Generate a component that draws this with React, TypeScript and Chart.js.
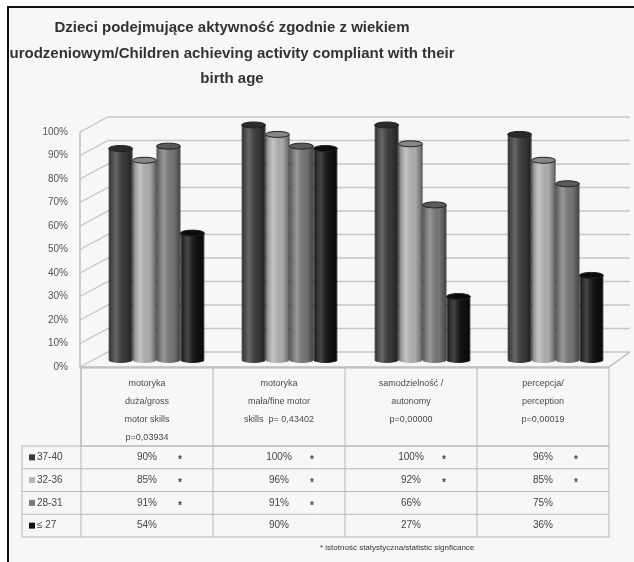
import { useEffect, useRef } from "react";
import { Chart, registerables } from "chart.js";

Chart.register(...registerables);

// Category headers of the data table (one entry per column, one string per line)
const categoryLines: string[][] = [
  ["motoryka", "duża/gross", "motor skills", "p=0,03934"],
  ["motoryka", "mała/fine motor", "skills  p= 0,43402"],
  ["samodzielność /", "autonomy", "p=0,00000"],
  ["percepcja/", "perception", "p=0,00019"],
];
const categories = ["motoryka duża", "motoryka mała", "samodzielność", "percepcja"];

// Birth-age groups (weeks)
const seriesLabels = ["37-40", "32-36", "28-31", "≤ 27"];

// Percent of children achieving the activity, per group
const values3740 = [90, 100, 100, 96];
const values3236 = [85, 96, 92, 85];
const values2831 = [91, 91, 66, 75];
const valuesUpTo27 = [54, 90, 27, 36];

// Statistically significant cells (marked with *)
const signif3740 = [true, true, true, true];
const signif3236 = [true, true, true, true];
const signif2831 = [true, true, false, false];
const signifUpTo27 = [false, false, false, false];

const yTicks = [0, 10, 20, 30, 40, 50, 60, 70, 80, 90, 100];

const titleLines = [
  "Dzieci podejmujące aktywność zgodnie z wiekiem",
  "urodzeniowym/Children achieving activity compliant with their",
  "birth age",
];
const footnote = "* istotność statystyczna/statistic signficance";

const seriesColors = ["#3b3b3b", "#b4b4b4", "#7a7a7a", "#111111"];
const seriesValues = [values3740, values3236, values2831, valuesUpTo27];
const seriesSignif = [signif3740, signif3236, signif2831, signifUpTo27];

const SANS = "'Liberation Sans', Arial, sans-serif";

// Frame, background and title
const framePlugin = {
  id: "frameAndTitle",
  beforeDraw(chart: any) {
    const { ctx, width, height } = chart;
    ctx.save();
    ctx.fillStyle = "#ffffff";
    ctx.fillRect(0, 0, width, height);
    ctx.fillStyle = "#f7f7f7";
    ctx.fillRect(8, 8, width - 8, height - 8);
    ctx.fillStyle = "#111111";
    ctx.fillRect(7, 6, width - 7, 2);
    ctx.fillRect(7, 6, 2, height - 6);

    ctx.fillStyle = "#333333";
    ctx.font = `bold 15px ${SANS}`;
    ctx.textAlign = "center";
    ctx.textBaseline = "middle";
    titleLines.forEach((line, i) => ctx.fillText(line, 232, 28 + 25.5 * i));
    ctx.restore();
  },
};

// Pseudo-3D walls with gridlines behind the columns
const wallsPlugin = {
  id: "walls3d",
  beforeDatasetsDraw(chart: any) {
    const { ctx, chartArea: area } = chart;
    const ys = chart.scales.y;
    const frontX = area.left - 10;
    const backX = area.left + 18;
    const backRight = area.right + 8;
    const tableRight = area.right - 13;
    ctx.save();
    ctx.strokeStyle = "#c6c6c6";
    ctx.lineWidth = 1.4;
    for (const v of yTicks) {
      const py = ys.getPixelForValue(v);
      ctx.beginPath();
      ctx.moveTo(frontX, py + 7);
      ctx.lineTo(backX, py - 8);
      ctx.lineTo(backRight, py - 8);
      ctx.stroke();
    }
    const top = ys.getPixelForValue(100);
    const zero = ys.getPixelForValue(0);
    ctx.strokeStyle = "#bdbdbd";
    ctx.beginPath();
    ctx.moveTo(frontX, top + 7);
    ctx.lineTo(frontX, zero + 7);
    ctx.lineTo(tableRight, zero + 7);
    ctx.lineTo(backRight, zero - 8);
    ctx.stroke();
    ctx.restore();
  },
};

// Cylinder shading on top of each column
const cylinderPlugin = {
  id: "cylinders",
  afterDatasetsDraw(chart: any) {
    const { ctx } = chart;
    ctx.save();
    chart.data.datasets.forEach((ds: any, di: number) => {
      const meta = chart.getDatasetMeta(di);
      meta.data.forEach((el: any) => {
        const { x, y, base, width } = el.getProps(["x", "y", "base", "width"], true);
        const left = x - width / 2;
        const g = ctx.createLinearGradient(left, 0, left + width, 0);
        g.addColorStop(0, "rgba(0,0,0,0.35)");
        g.addColorStop(0.32, "rgba(255,255,255,0.22)");
        g.addColorStop(0.7, "rgba(0,0,0,0.05)");
        g.addColorStop(1, "rgba(0,0,0,0.45)");
        // rounded bottom
        ctx.fillStyle = seriesColors[di];
        ctx.beginPath();
        ctx.ellipse(x, base, width / 2, 3, 0, 0, Math.PI);
        ctx.fill();
        ctx.fillStyle = g;
        ctx.beginPath();
        ctx.ellipse(x, base, width / 2, 3, 0, 0, Math.PI);
        ctx.fill();
        ctx.fillRect(left, y, width, base - y);
        // top cap
        ctx.beginPath();
        ctx.ellipse(x, y, width / 2, 3, 0, 0, Math.PI * 2);
        ctx.fillStyle = seriesColors[di];
        ctx.fill();
        ctx.fillStyle = "rgba(0,0,0,0.25)";
        ctx.fill();
        ctx.strokeStyle = "#222222";
        ctx.lineWidth = 1;
        ctx.stroke();
      });
    });
    ctx.restore();
  },
};

// Data table under the plot
const tablePlugin = {
  id: "dataTable",
  afterDraw(chart: any) {
    const { ctx, chartArea: area } = chart;
    const ys = chart.scales.y;
    const tLeft = area.left - 9;
    const tRight = area.right - 13;
    const legendLeft = 22;
    const colW = (tRight - tLeft) / categories.length;
    const headTop = ys.getPixelForValue(0) + 8;
    const headBottom = headTop + 78;
    const rowH = 22.75;
    const rowsBottom = headBottom + rowH * seriesLabels.length;

    ctx.save();
    ctx.strokeStyle = "#b8b8b8";
    ctx.lineWidth = 1;
    // header block
    ctx.strokeRect(tLeft, headTop, tRight - tLeft, headBottom - headTop);
    // rows block
    ctx.strokeRect(legendLeft, headBottom, tRight - legendLeft, rowsBottom - headBottom);
    for (let r = 1; r < seriesLabels.length; r++) {
      const yy = headBottom + rowH * r;
      ctx.beginPath();
      ctx.moveTo(legendLeft, yy);
      ctx.lineTo(tRight, yy);
      ctx.stroke();
    }
    for (let c = 0; c < categories.length; c++) {
      const xx = tLeft + colW * c;
      ctx.beginPath();
      ctx.moveTo(xx, headTop);
      ctx.lineTo(xx, rowsBottom);
      ctx.stroke();
    }

    // header labels
    ctx.fillStyle = "#4a4a4a";
    ctx.textAlign = "center";
    ctx.textBaseline = "middle";
    ctx.font = `9px ${SANS}`;
    categoryLines.forEach((lines, c) => {
      const cx = tLeft + colW * (c + 0.5);
      lines.forEach((line, j) => ctx.fillText(line, cx, headTop + 16 + 18 * j));
    });

    // value rows
    seriesLabels.forEach((label, r) => {
      const cy = headBottom + rowH * (r + 0.5);
      ctx.fillStyle = seriesColors[r];
      ctx.fillRect(29, cy - 3, 6, 6);
      ctx.fillStyle = "#444444";
      ctx.font = `10px ${SANS}`;
      ctx.textAlign = "left";
      ctx.fillText(label, 37, cy);
      ctx.textAlign = "center";
      seriesValues[r].forEach((v, c) => {
        const cx = tLeft + colW * (c + 0.5);
        ctx.font = `10px ${SANS}`;
        ctx.fillText(`${v}%`, cx, cy);
        if (seriesSignif[r][c]) {
          ctx.font = `bold 10px ${SANS}`;
          ctx.fillText("*", cx + 33, cy + 3);
        }
      });
    });

    // footnote
    ctx.fillStyle = "#333333";
    ctx.font = `8px ${SANS}`;
    ctx.textAlign = "left";
    ctx.fillText(footnote, 320, 548);
    ctx.restore();
  },
};

export default function App() {
  const ref = useRef<HTMLCanvasElement>(null);

  useEffect(() => {
    const canvas = ref.current;
    if (!canvas) return;
    const chart = new Chart(canvas, {
      type: "bar",
      data: {
        labels: categories,
        datasets: seriesLabels.map((label, i) => ({
          label,
          data: seriesValues[i],
          backgroundColor: seriesColors[i],
          borderColor: "#1e1e1e",
          borderWidth: 1,
          categoryPercentage: 0.72,
          barPercentage: 1,
        })),
      },
      options: {
        responsive: false,
        animation: false,
        devicePixelRatio: 1,
        layout: { padding: { left: 20, right: 12, top: 125, bottom: 202 } },
        plugins: {
          legend: { display: false },
          title: { display: false },
          tooltip: { enabled: false },
        },
        scales: {
          x: { type: "category", display: false },
          y: {
            min: 0,
            max: 100,
            afterFit: (scale: any) => {
              scale.width = 70;
            },
            grid: { display: false, drawTicks: false },
            border: { display: false },
            ticks: {
              stepSize: 10,
              padding: 22,
              labelOffset: 7,
              color: "#555555",
              font: { family: SANS, size: 10 },
              callback: (v: any) => `${v}%`,
            },
          },
        },
      },
      plugins: [framePlugin, wallsPlugin, cylinderPlugin, tablePlugin],
    });
    return () => chart.destroy();
  }, []);

  return (
    <canvas
      ref={ref}
      width={634}
      height={562}
      style={{ position: "fixed", left: 0, top: 0, width: 634, height: 562 }}
    />
  );
}
